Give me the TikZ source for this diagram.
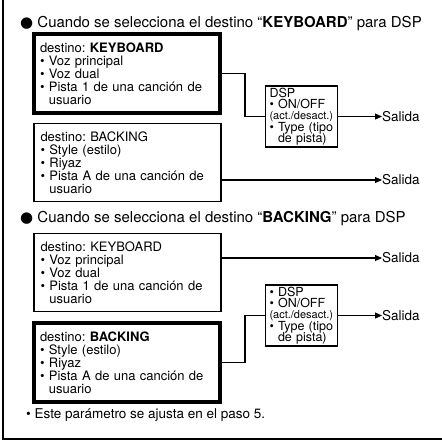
\documentclass[tikz,border=0pt]{standalone}
\usepackage{fontspec}
\setmainfont{TeX Gyre Heros}
\newfontfamily\symfont{DejaVu Sans}
\usetikzlibrary{arrows.meta,positioning}
\frenchspacing
\newcommand\bul{\textbullet\ }
\newcommand\bulind{\hphantom{\textbullet\ }}
\newcommand\smalltxt[1]{{\fontsize{11}{11.4}\selectfont #1}}
\newcommand\dspfont{\fontsize{12.5}{11.4}\selectfont\lineskiplimit=-3pt\relax}

\begin{document}
\begin{tikzpicture}[x=1pt,y=-1pt,
  src/.style={draw,line width=1.2pt,minimum width=187pt,minimum height=78pt,text width=174pt,align=left,inner sep=0pt,font=\fontsize{13}{13.1}\selectfont},
  sel/.style={src,line width=4pt,minimum width=186pt,minimum height=79pt},
  dsp/.style={draw,line width=1.5pt,minimum width=72pt,minimum height=61pt,text width=64pt,align=left,inner sep=0pt,font=\dspfont},
  title/.style={anchor=base west,inner sep=0pt,font=\fontsize{15}{15}\selectfont},
  outlbl/.style={anchor=west,inner sep=0pt,font=\fontsize{13.5}{14}\selectfont},
  tip/.style={-{Triangle[length=7pt,width=6pt]},line width=1.1pt},
  wire/.style={line width=1.6pt}]
\useasboundingbox (0,0) rectangle (442,440);
\draw[line width=2pt] (3,0) |- (442,439);
% destino KEYBOARD
\node[title] (t1) at (20,27.5) {{\symfont ●}\ Cuando se selecciona el destino “\textbf{KEYBOARD}” para DSP};
\node[sel] (kb1) at (127,73.5) {destino: \textbf{KEYBOARD}\\\bul Voz principal\\\bul Voz dual\\\bul Pista 1 de una canción de\\\bulind usuario};
\node[src] (bk1) at (127.5,162.5) {destino: BACKING\\\bul Style (estilo)\\\bul Riyaz\\\bul Pista A de una canción de\\\bulind usuario};
\node[dsp] (dsp1) at (301.5,116.5) {DSP\\\bul ON/OFF\\\smalltxt{(act./desact.)}\\\bul Type (tipo\\\bulind de pista)};
\node[outlbl] (o1) at (382,116.5) {Salida}; \node[outlbl] (o2) at (382,180) {Salida};
\draw[wire] (kb1.east) -- ++(23,0) |- (dsp1.west);
\draw[tip] (dsp1.east) -- (o1.west); \draw[tip] (bk1.east |- o2) -- (o2.west);
% destino BACKING
\node[title] (t2) at (20,222) {{\symfont ●}\ Cuando se selecciona el destino “\textbf{BACKING}” para DSP};
\node[src] (kb2) at (127.5,272.5) {destino: KEYBOARD\\\bul Voz principal\\\bul Voz dual\\\bul Pista 1 de una canción de\\\bulind usuario};
\node[sel] (bk2) at (127,362.5) {destino: \textbf{BACKING}\\\bul Style (estilo)\\\bul Riyaz\\\bul Pista A de una canción de\\\bulind usuario};
\node[dsp] (dsp2) at (301.5,315.5) {\bul DSP\\\bul ON/OFF\\\smalltxt{(act./desact.)}\\\bul Type (tipo\\\bulind de pista)};
\node[outlbl] (o3) at (382,258) {Salida}; \node[outlbl] (o4) at (382,315.5) {Salida};
\draw[wire] (bk2.east) -- ++(23,0) |- (dsp2.west);
\draw[tip] (dsp2.east) -- (o4.west); \draw[tip] (kb2.east |- o3) -- (o3.west);
\node[anchor=base west,inner sep=0pt,font=\fontsize{13.5}{14}\selectfont] (nota) at (26,418) {\bul Este parámetro se ajusta en el paso 5.};
\end{tikzpicture}
\end{document}
